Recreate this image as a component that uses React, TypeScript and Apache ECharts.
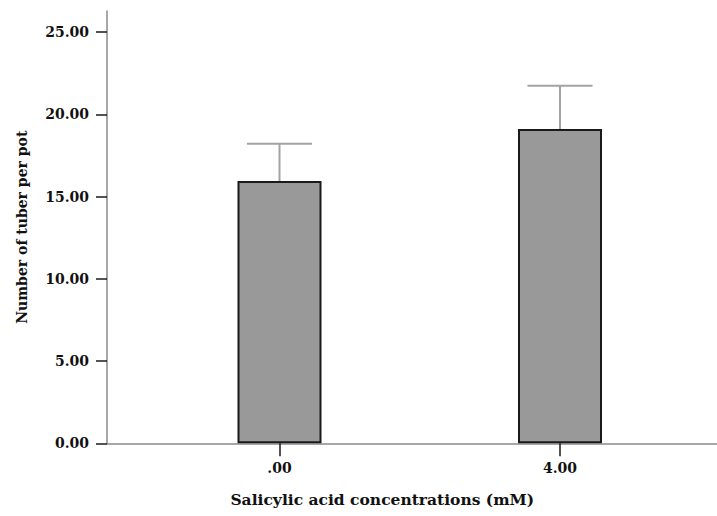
import React, { useEffect, useRef } from "react";
import * as echarts from "echarts";

const categories = [".00", "4.00"];
const means = [15.94, 19.11];
const upperErrors = [18.21, 21.74];
const yTicks = [0, 5, 10, 15, 20, 25];
const yMax = 26.28;

const FONT = "DejaVu Serif";

export default function App() {
  const ref = useRef<HTMLDivElement>(null);
  useEffect(() => {
    if (!ref.current) return;
    const chart = echarts.init(ref.current, null, { renderer: "svg" });
    const errData = categories.map((c, i) => [i, means[i], upperErrors[i]]);
    const option: any = {
      animation: false,
      backgroundColor: "#ffffff",
      grid: [
        { left: 107, right: 0, top: 11, bottom: 72.7, containLabel: false },
        { left: 139.25, right: 16.75, top: 11, bottom: 72.7, containLabel: false },
      ],
      xAxis: [
        {
          gridIndex: 0,
          type: "value",
          min: 0,
          max: 1,
          axisLine: { show: true, lineStyle: { color: "#8a8a8a", width: 1.5 } },
          axisTick: { show: false },
          axisLabel: { show: false },
          splitLine: { show: false },
        },
        {
          gridIndex: 1,
          type: "category",
          data: categories,
          boundaryGap: true,
          axisLine: { show: false },
          axisTick: {
            show: true,
            alignWithLabel: true,
            length: 13,
            lineStyle: { color: "#1a1a1a", width: 1.5 },
          },
          axisLabel: {
            margin: 18,
            color: "#111",
            fontFamily: FONT,
            fontWeight: "bold",
            fontSize: 14,
          },
          name: "Salicylic acid concentrations (mM)",
          nameLocation: "middle",
          nameGap: 48,
          nameTextStyle: {
            color: "#111",
            fontFamily: FONT,
            fontWeight: "bold",
            fontSize: 15.5,
            padding: [0, 75, 0, 0],
          },
        },
      ],
      yAxis: [
        {
          gridIndex: 0,
          type: "value",
          min: 0,
          max: yMax,
          axisLine: { show: true, lineStyle: { color: "#8a8a8a", width: 1.5 } },
          axisTick: {
            show: true,
            length: 11,
            customValues: yTicks,
            lineStyle: { color: "#1a1a1a", width: 1.5 },
          },
          axisLabel: {
            margin: 18,
            customValues: yTicks,
            formatter: (v: number) => v.toFixed(2),
            color: "#111",
            fontFamily: FONT,
            fontWeight: "bold",
            fontSize: 14,
          },
          splitLine: { show: false },
          name: "Number of tuber per pot",
          nameLocation: "middle",
          nameGap: 78,
          nameTextStyle: {
            color: "#111",
            fontFamily: FONT,
            fontWeight: "bold",
            fontSize: 14,
          },
        },
        {
          gridIndex: 1,
          type: "value",
          min: 0,
          max: yMax,
          show: false,
          splitLine: { show: false },
        },
      ],
      series: [
        {
          type: "custom",
          xAxisIndex: 1,
          yAxisIndex: 1,
          z: 1,
          data: errData,
          renderItem: (params: any, api: any) => {
            const x = api.value(0);
            const base = api.coord([x, api.value(1)]);
            const top = api.coord([x, api.value(2)]);
            const half = 32.5;
            const style = { stroke: "#a3a3a3", lineWidth: 2 };
            return {
              type: "group",
              children: [
                { type: "line", shape: { x1: base[0], y1: base[1], x2: top[0], y2: top[1] }, style },
                { type: "line", shape: { x1: top[0] - half, y1: top[1], x2: top[0] + half, y2: top[1] }, style },
              ],
            };
          },
        },
        {
          type: "bar",
          xAxisIndex: 1,
          yAxisIndex: 1,
          z: 2,
          data: means,
          barWidth: 84,
          itemStyle: { color: "#999999", borderColor: "#1a1a1a", borderWidth: 2 },
        },
      ],
    };
    chart.setOption(option);
    return () => chart.dispose();
  }, []);
  return (
    <div
      ref={ref}
      style={{ position: "absolute", left: 0, top: 0, width: 717, height: 516 }}
    />
  );
}
